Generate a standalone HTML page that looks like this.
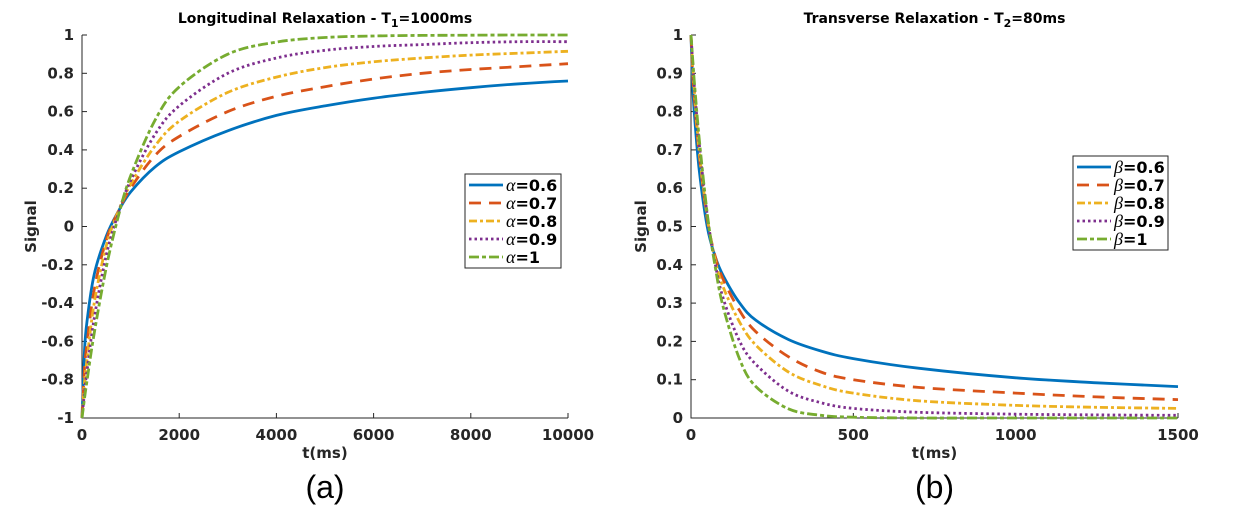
<!DOCTYPE html>
<html><head><meta charset="utf-8"><style>
body{margin:0;background:#fff;}
svg{display:block;font-family:"DejaVu Sans","Liberation Sans",sans-serif;}
</style></head><body>
<svg id="s" width="1236" height="529" viewBox="0 0 1236 529"></svg>
<script>
const colors=['#0072BD','#D95319','#EDB120','#7E2F8E','#77AC30'];
const dashes=['none','12,8','8,3,3,3','2.5,3','10,3,4,3'];
const tA=[0,50,100,250,500,750,1000,1500,2000,3000,4000,5000,6000,7000,8000,9000,10000];
const aLabels=['=0.6','=0.7','=0.8','=0.9','=1'];
const a06=[-1,-0.66,-0.5,-0.25,-0.05,0.08,0.18,0.31,0.39,0.5,0.58,0.63,0.67,0.7,0.725,0.745,0.76];
const a07=[-1,-0.75,-0.62,-0.33,-0.07,0.08,0.2,0.37,0.47,0.6,0.68,0.73,0.77,0.8,0.82,0.835,0.85];
const a08=[-1,-0.82,-0.7,-0.4,-0.1,0.08,0.22,0.42,0.55,0.7,0.78,0.83,0.86,0.88,0.895,0.905,0.915];
const a09=[-1,-0.87,-0.76,-0.48,-0.15,0.07,0.24,0.48,0.63,0.8,0.88,0.92,0.94,0.95,0.96,0.965,0.965];
const a10=[-1,-0.902,-0.81,-0.558,-0.213,0.055,0.264,0.554,0.729,0.9,0.963,0.987,0.995,0.998,0.999,1,1];
const tB=[0,5,10,25,50,75,100,150,200,300,400,500,700,1000,1250,1500];
const bLabels=['=0.6','=0.7','=0.8','=0.9','=1'];
const b06=[1,0.87,0.8,0.65,0.5,0.42,0.37,0.3,0.255,0.205,0.175,0.155,0.13,0.105,0.092,0.082];
const b07=[1,0.9,0.84,0.69,0.52,0.42,0.36,0.28,0.225,0.16,0.12,0.1,0.08,0.065,0.055,0.048];
const b08=[1,0.92,0.86,0.7,0.525,0.41,0.34,0.25,0.19,0.12,0.085,0.065,0.045,0.033,0.028,0.025];
const b09=[1,0.93,0.87,0.72,0.53,0.4,0.31,0.2,0.14,0.07,0.04,0.025,0.015,0.01,0.008,0.007];
const b10=[1,0.94,0.882,0.732,0.535,0.392,0.287,0.153,0.082,0.024,0.007,0.002,0,0,0,0];
const xTicksA=[0,2000,4000,6000,8000,10000];
const yTicksA=[-1,-0.8,-0.6,-0.4,-0.2,0,0.2,0.4,0.6,0.8,1];
const xTicksB=[0,500,1000,1500];
const yTicksB=[0,0.1,0.2,0.3,0.4,0.5,0.6,0.7,0.8,0.9,1];

const S=document.getElementById('s');const NS='http://www.w3.org/2000/svg';
function el(tag,attrs,parent){const e=document.createElementNS(NS,tag);for(const k in attrs)e.setAttribute(k,attrs[k]);(parent||S).appendChild(e);return e;}
function fmt(v){return (Math.round(v*10)/10).toString();}
function smooth(pts){
  let d='M'+pts[0][0].toFixed(1)+','+pts[0][1].toFixed(1);
  for(let i=0;i<pts.length-1;i++){
    const p0=pts[Math.max(0,i-1)],p1=pts[i],p2=pts[i+1],p3=pts[Math.min(pts.length-1,i+2)];
    const c1x=p1[0]+(p2[0]-p0[0])/6,c1y=p1[1]+(p2[1]-p0[1])/6;
    const c2x=p2[0]-(p3[0]-p1[0])/6,c2y=p2[1]-(p3[1]-p1[1])/6;
    d+=`C${c1x.toFixed(1)},${c1y.toFixed(1)} ${c2x.toFixed(1)},${c2y.toFixed(1)} ${p2[0].toFixed(1)},${p2[1].toFixed(1)}`;
  }
  return d;
}

function panel(o){
  const g=el('g',{});
  
  
  const X=v=>o.x0+(v-o.xmin)/(o.xmax-o.xmin)*(o.x1-o.x0);
  const Y=v=>o.y1-(v-o.ymin)/(o.ymax-o.ymin)*(o.y1-o.y0);
  const ax=el('path',{d:`M${o.x0},${o.y0}V${o.y1}H${o.x1}`,stroke:'#262626','stroke-width':1,fill:'none'},g);
  
  
  o.xt.forEach(v=>{
    el('line',{x1:X(v),x2:X(v),y1:o.y1,y2:o.y1-5,stroke:'#262626'},g);
    const t=el('text',{x:X(v),y:o.y1+22,'text-anchor':'middle','font-size':15,'font-weight':'bold',fill:'#262626'},g);
    t.textContent=v;
    
    
  });
  o.yt.forEach(v=>{
    el('line',{x1:o.x0,x2:o.x0+5,y1:Y(v),y2:Y(v),stroke:'#262626'},g);
    const t=el('text',{x:o.x0-8,y:Y(v)+5,'text-anchor':'end','font-size':15,'font-weight':'bold',fill:'#262626'},g);
    t.textContent=fmt(v);
    
    
  });
  o.series.forEach((s,i)=>{
    const pts=s.map((v,j)=>[X(o.t[j]),Y(v)]);
    const p=el('path',{d:smooth(pts),stroke:colors[i],'stroke-width':2.8,fill:'none','stroke-dasharray':dashes[i],'stroke-linejoin':'round'},g);
    
    
  });
  const tt=el('text',{x:(o.x0+o.x1)/2,y:23,'text-anchor':'middle','font-size':14,'font-weight':'bold',fill:'#000'},g);
  tt.innerHTML=o.title;
  
  
  const xl=el('text',{x:(o.x0+o.x1)/2,y:o.y1+40,'text-anchor':'middle','font-size':15,'font-weight':'bold',fill:'#262626'},g);
  xl.textContent='t(ms)';
  
  
  const yl=el('text',{x:0,y:0,transform:`translate(${o.ylx},${(o.y0+o.y1)/2}) rotate(-90)`,'text-anchor':'middle','font-size':15,'font-weight':'bold',fill:'#262626'},g);
  yl.textContent='Signal';
  
  
  const cap=el('text',{x:(o.x0+o.x1)/2,y:498,'text-anchor':'middle','font-size':32,fill:'#000','font-family':'Liberation Sans, sans-serif'},g);
  cap.textContent=o.cap;
  
  
  const lg=el('g',{},g);
  
  
  el('rect',{x:o.lx,y:o.ly,width:o.lw,height:94,fill:'#fff',stroke:'#262626','stroke-width':1},lg);
  o.labels.forEach((lab,i)=>{
    const yy=o.ly+11+i*18;
    const ln=el('line',{x1:o.lx+4,x2:o.lx+38,y1:yy,y2:yy,stroke:colors[i],'stroke-width':2.8,'stroke-dasharray':dashes[i]},lg);
    
    
    const t=el('text',{x:o.lx+41,y:yy+6,'font-size':16,'font-weight':'bold',fill:'#000'},lg);
    t.innerHTML=`<tspan font-family="Liberation Serif, serif" font-style="italic" font-weight="normal" font-size="18">${o.sym}</tspan>${lab}`;
    
    
  });
}
panel({name:'longitudinal-chart',x0:82,x1:568,y0:35,y1:418,xmin:0,xmax:10000,ymin:-1,ymax:1,xt:xTicksA,yt:yTicksA,t:tA,series:[a06,a07,a08,a09,a10],
  title:'Longitudinal Relaxation - T<tspan font-size="11" dy="4">1</tspan><tspan dy="-4">=1000ms</tspan>',ylx:36,cap:'(a)',lx:465,ly:174,lw:96,labels:aLabels,sym:'α'});
panel({name:'transverse-chart',x0:691,x1:1178,y0:35,y1:418,xmin:0,xmax:1500,ymin:0,ymax:1,xt:xTicksB,yt:yTicksB,t:tB,series:[b06,b07,b08,b09,b10],
  title:'Transverse Relaxation - T<tspan font-size="11" dy="4">2</tspan><tspan dy="-4">=80ms</tspan>',ylx:646,cap:'(b)',lx:1073,ly:156,lw:95,labels:bLabels,sym:'β'});
</script>
</body></html>
